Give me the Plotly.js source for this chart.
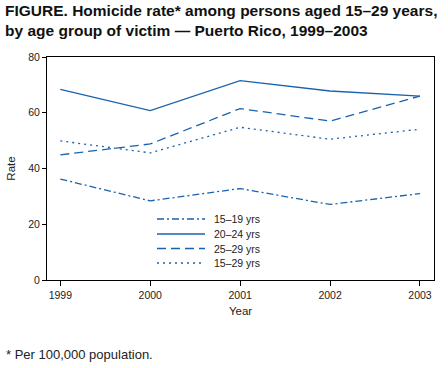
<!DOCTYPE html>
<html><head><meta charset="utf-8">
<script src="https://cdn.plot.ly/plotly-3.0.1.min.js"></script>
<style>html,body{margin:0;padding:0;background:#fff}#chart{width:448px;height:368px}</style>
</head><body><div id="chart"></div>
<script>
const years = [1999, 2000, 2001, 2002, 2003];
const age15to19 = [36.2, 28.4, 32.8, 27.1, 31.0];
const age20to24 = [68.4, 60.8, 71.5, 67.8, 66.0];
const age25to29 = [44.9, 48.8, 61.5, 57.0, 66.0];
const age15to29 = [49.9, 45.6, 54.8, 50.5, 54.1];
const seriesNames = ['15–19 yrs', '20–24 yrs', '25–29 yrs', '15–29 yrs'];
const yTicks = [0, 20, 40, 60, 80];

const blue = '#1b62ad';
const font = 'Liberation Sans, Arial, Helvetica, sans-serif';
const dashes = ['7px,3px,2px,3px', 'solid', '9px,5px', '2px,4px'];
const series = [age15to19, age20to24, age25to29, age15to29];

// plot area in pixels (for legend placement)
const L = 47, R = 434, T = 57, B = 280;
const px = x => (x - L) / (R - L);
const py = y => (B - y) / (B - T);

const traces = series.map((s, i) => ({
  x: years, y: s, name: seriesNames[i], type: 'scatter', mode: 'lines',
  line: {color: blue, width: 1.3, dash: dashes[i]}, showlegend: false
}));

const legendRows = [219, 234, 248.5, 263];
const shapes = seriesNames.map((n, i) => ({
  type: 'line', xref: 'paper', yref: 'paper', x0: px(157), x1: px(205), y0: py(legendRows[i]), y1: py(legendRows[i]),
  line: {color: blue, width: 1.3, dash: dashes[i]}
}));
const legendText = seriesNames.map((n, i) => ({
  text: n, xref: 'paper', yref: 'paper', x: px(212), y: py(legendRows[i]), xanchor: 'left', yanchor: 'middle',
  showarrow: false, font: {family: font, size: 10.5, color: '#222'}
}));

const layout = {
  width: 448, height: 368,
  margin: {l: L, r: 448 - R, t: T, b: 368 - B},
  paper_bgcolor: '#fff', plot_bgcolor: '#fff',
  font: {family: font, size: 10, color: '#222'},
  showlegend: false,
  xaxis: {range: [1998.852, 2003.156], tickvals: years, ticktext: years.map(String),
    ticks: 'outside', ticklen: 5, tickcolor: '#000', showline: true, linecolor: '#000', linewidth: 1,
    mirror: true, showgrid: false, zeroline: false, tickfont: {size: 10.5},
    title: {text: 'Year', font: {family: font, size: 11.5, color: '#222'}, standoff: 7}},
  yaxis: {range: [0, 80], tickvals: yTicks, ticks: 'outside', ticklen: 4, tickcolor: '#000',
    showline: true, linecolor: '#000', linewidth: 1, mirror: true, showgrid: false, zeroline: false,
    tickfont: {size: 10.5},
    title: {text: 'Rate', font: {family: font, size: 11.5, color: '#222'}, standoff: 10}},
  shapes: shapes,
  annotations: [
    {text: '<b>FIGURE. Homicide rate* among persons aged 15–29 years,<br>by age group of victim — Puerto Rico, 1999–2003</b>',
     xref: 'paper', yref: 'paper', x: px(3), y: py(0), xanchor: 'left', yanchor: 'top', align: 'left',
     showarrow: false, font: {family: font, size: 15.5, color: '#111'}},
    {text: '* Per 100,000 population.', xref: 'paper', yref: 'paper', x: px(4), y: py(345),
     xanchor: 'left', yanchor: 'top', showarrow: false, font: {family: font, size: 13, color: '#222'}}
  ].concat(legendText)
};
Plotly.newPlot('chart', traces, layout, {displayModeBar: false, staticPlot: true});
</script></body></html>
